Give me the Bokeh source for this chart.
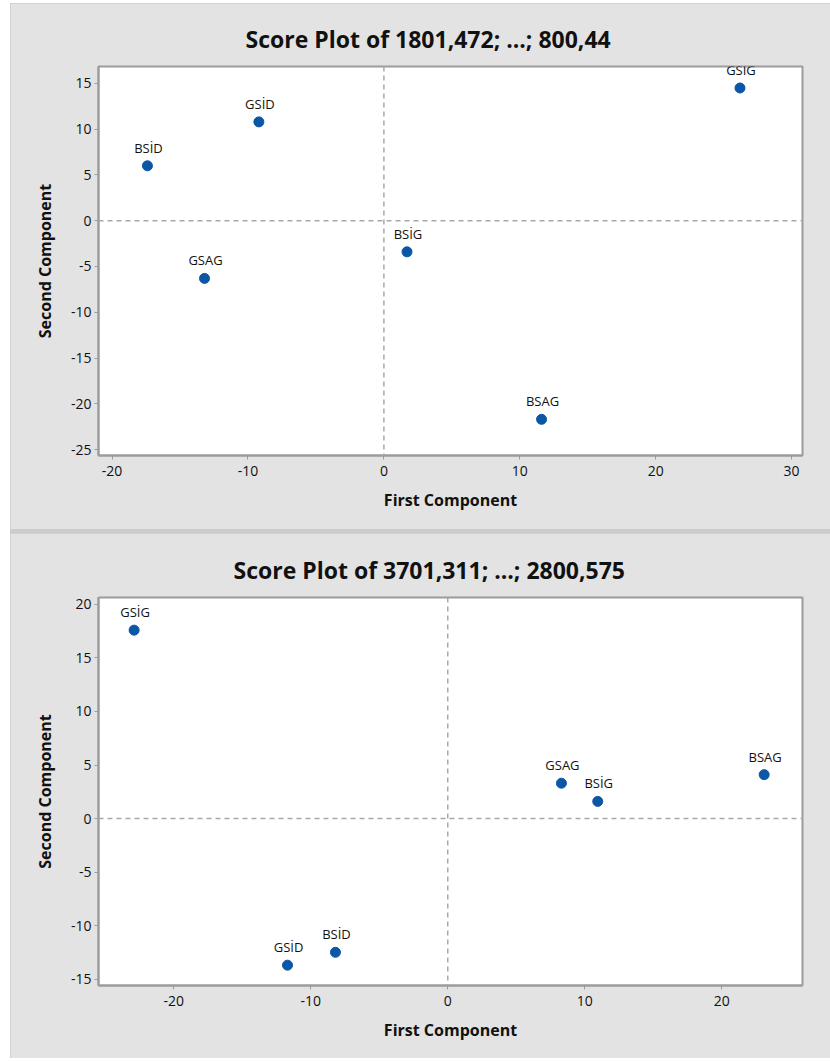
from bokeh.plotting import figure
from bokeh.models import ColumnDataSource, LabelSet, Span, FixedTicker, PrintfTickFormatter
from bokeh.core.properties import value
from bokeh.layouts import column
from bokeh.embed import file_html
from bokeh.resources import INLINE

# ---- data: top panel ----
top_title = "Score Plot of 1801,472; ...; 800,44"
top_names = ["GSİG", "GSİD", "BSİD", "BSİG", "GSAG", "BSAG"]
top_pc1 = [26.2, -9.2, -17.4, 1.7, -13.2, 11.6]
top_pc2 = [14.5, 10.8, 6.0, -3.4, -6.3, -21.7]
top_xticks = [-20, -10, 0, 10, 20, 30]
top_yticks = [15, 10, 5, 0, -5, -10, -15, -20, -25]

# ---- data: bottom panel ----
bot_title = "Score Plot of 3701,311; ...; 2800,575"
bot_names = ["GSİG", "GSAG", "BSİG", "BSAG", "GSİD", "BSİD"]
bot_pc1 = [-22.9, 8.3, 10.95, 23.1, -11.7, -8.2]
bot_pc2 = [17.6, 3.3, 1.6, 4.1, -13.7, -12.5]
bot_xticks = [-20, -10, 0, 10, 20]
bot_yticks = [20, 15, 10, 5, 0, -5, -10, -15]

FONT = "Open Sans"
BG = "#e3e3e3"
FRAME = "#9c9c9c"
DOT = "#0b56a6"


def make_panel(title, title_offset, names, xs, ys, xr, yr, xticks, yticks,
               height, top_border, bottom_border):
    p = figure(width=820, height=height, x_range=xr, y_range=yr,
               output_backend="svg", toolbar_location=None,
               min_border_left=88, min_border_right=28,
               min_border_top=top_border, min_border_bottom=bottom_border)
    p.background_fill_color = "white"
    p.border_fill_color = BG
    p.outline_line_color = FRAME
    p.outline_line_width = 2
    p.grid.visible = False

    p.title.text = title
    p.title.align = "left"
    p.title.offset = title_offset
    p.title.text_font = FONT
    p.title.text_font_size = "23px"
    p.title.text_font_style = "bold"
    p.title.text_color = "#111111"
    p.title.standoff = 23

    for ax in (p.xaxis[0], p.yaxis[0]):
        ax.axis_line_color = FRAME
        ax.axis_line_width = 2
        ax.major_tick_line_color = FRAME
        ax.major_tick_in = 0
        ax.major_tick_out = 4
        ax.minor_tick_line_color = None
        ax.formatter = PrintfTickFormatter(format="%d")
        ax.major_label_text_font = FONT
        ax.major_label_text_font_size = "14px"
        ax.major_label_text_color = "#111111"
        ax.axis_label_text_font = FONT
        ax.axis_label_text_font_size = "16px"
        ax.axis_label_text_font_style = "bold"
        ax.axis_label_text_color = "#111111"
    p.xaxis[0].ticker = FixedTicker(ticks=xticks)
    p.yaxis[0].ticker = FixedTicker(ticks=yticks)
    p.xaxis[0].axis_label = "First Component"
    p.yaxis[0].axis_label = "Second Component"
    p.xaxis[0].major_label_standoff = 6
    p.yaxis[0].major_label_standoff = 3
    p.xaxis[0].axis_label_standoff = 10
    p.yaxis[0].axis_label_standoff = 12

    p.add_layout(Span(location=0, dimension="width", line_color="#a8a8a8",
                      line_width=1.5, line_dash="5 4"))
    p.add_layout(Span(location=0, dimension="height", line_color="#a8a8a8",
                      line_width=1.5, line_dash="5 4"))

    src = ColumnDataSource(dict(x=xs, y=ys, name=names))
    p.scatter("x", "y", source=src, size=10, color=DOT, line_color=DOT)
    p.add_layout(LabelSet(x="x", y="y", text="name", source=src,
                          x_offset=1, y_offset=9, text_align="center",
                          text_baseline="bottom", text_font=value(FONT),
                          text_font_size="13px", text_color="#111111"))
    return p


p1 = make_panel(top_title, 147, top_names, top_pc1, top_pc2, (-21.0, 30.8), (-25.65, 16.85),
                top_xticks, top_yticks, 526, 63, 74)
p2 = make_panel(bot_title, 135, bot_names, bot_pc1, bot_pc2, (-25.5, 25.9), (-15.6, 20.65),
                bot_xticks, bot_yticks, 525, 64, 73)

layout = column(p1, p2, spacing=4, margin=(3, 0, 0, 10),
                styles={"background-color": "#cccccc"})

open("out.html", "w").write(file_html(layout, INLINE))
